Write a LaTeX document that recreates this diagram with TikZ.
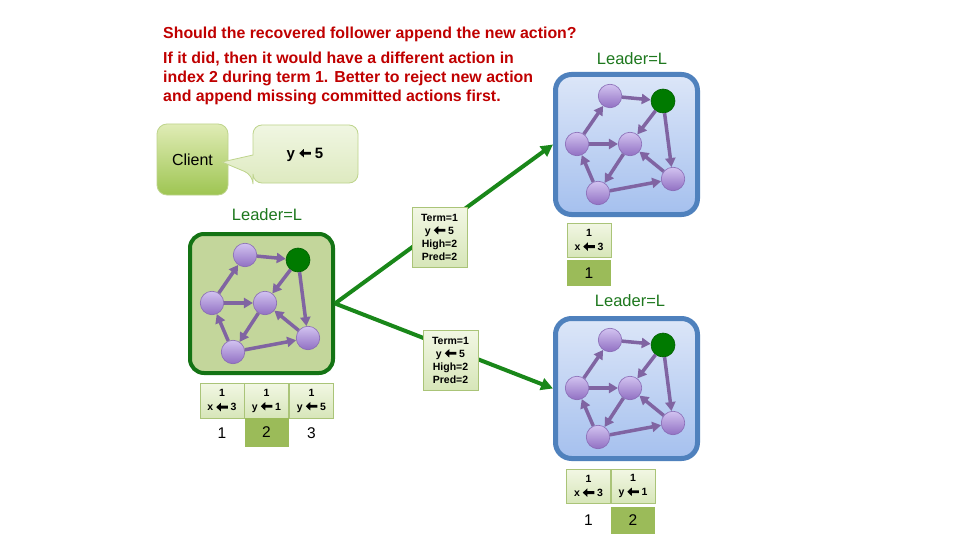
\documentclass[tikz,border=0pt]{standalone}
\usepackage{fontspec}
\setmainfont{Liberation Sans}
\usetikzlibrary{arrows.meta}
\definecolor{titlered}{RGB}{192,0,0}
\definecolor{leadgreen}{RGB}{30,120,30}
\definecolor{boxgreen}{RGB}{195,214,155}
\definecolor{boxgreenborder}{RGB}{20,115,20}
\definecolor{linkgreen}{RGB}{25,135,25}
\definecolor{purpleedge}{RGB}{128,100,162}
\definecolor{purplelight}{RGB}{210,195,240}
\definecolor{purpledark}{RGB}{145,112,195}
\definecolor{purpleborder}{RGB}{135,105,180}
\definecolor{leadernode}{RGB}{0,122,0}
\definecolor{leaderborder}{RGB}{0,95,0}
\definecolor{blueborder}{RGB}{79,129,189}
\definecolor{bluetop}{RGB}{220,230,248}
\definecolor{bluebottom}{RGB}{165,192,238}
\definecolor{cellborder}{RGB}{170,196,120}
\definecolor{celltop}{RGB}{242,247,228}
\definecolor{cellbottom}{RGB}{215,230,185}
\definecolor{indexfill}{RGB}{155,187,89}
\definecolor{clienttop}{RGB}{224,236,182}
\definecolor{clientbottom}{RGB}{158,197,82}
\definecolor{clientborder}{RGB}{190,212,140}
\definecolor{callouttop}{RGB}{240,246,226}
\definecolor{calloutbottom}{RGB}{222,234,192}
\definecolor{calloutborder}{RGB}{190,212,140}
\newcommand\larr{\tikz[baseline=0pt]\fill (0pt,0.36em) -- ++(4.5pt,4.2pt) -- ++(0pt,-2.8pt) -- ++(7pt,0pt) -- ++(0pt,-2.8pt) -- ++(-7pt,0pt) -- ++(0pt,-2.8pt) -- cycle;}
\tikzset{
  titletext/.style={text=titlered, font=\bfseries\fontsize{15.9}{19}\selectfont, anchor=west, inner sep=0pt},
  leadlabel/.style={text=leadgreen, font=\fontsize{16.5}{18}\selectfont, inner sep=0pt},
  gbox/.style={draw=boxgreenborder, line width=4pt, fill=boxgreen, rounded corners=14pt, minimum width=143pt, minimum height=139pt, inner sep=0pt},
  bbox/.style={draw=blueborder, line width=5pt, top color=bluetop, bottom color=bluebottom, rounded corners=16pt, minimum width=142pt, minimum height=140pt, inner sep=0pt},
  pnode/.style={circle, draw=purpleborder, line width=0.6pt, top color=purplelight, bottom color=purpledark, minimum size=23.5pt, inner sep=0pt},
  lnode/.style={circle, draw=leaderborder, line width=0.6pt, fill=leadernode, minimum size=24pt, inner sep=0pt},
  pedge/.style={draw=purpleedge, line width=3.5pt, -{Triangle[length=9pt,width=10pt]}},
  link/.style={draw=linkgreen, line width=4pt, -{Triangle[length=12pt,width=12pt]}},
  msg/.style={draw=cellborder, line width=0.8pt, top color=celltop, bottom color=cellbottom, minimum width=55pt, minimum height=60pt, align=center, inner sep=0pt, font=\bfseries\fontsize{10.5}{13}\selectfont},
  cell/.style={draw=cellborder, line width=0.8pt, top color=celltop, bottom color=cellbottom, minimum width=44pt, minimum height=35pt, align=center, inner sep=0pt, font=\bfseries\fontsize{10.5}{14}\selectfont},
  idx/.style={font=\fontsize{15.5}{18}\selectfont, inner sep=0pt},
  idxbox/.style={fill=indexfill, minimum width=44pt, minimum height=28pt, inner sep=0pt, font=\fontsize{15.5}{18}\selectfont},
}
\newcommand\raftcluster[4]{%
  \begin{scope}[shift={(#2,#3)}]
    \node[#4] (#1box) at (261.5,303.5) {};
    \node[pnode] (#1T) at (245,255) {};
    \node[lnode] (#1G) at (298,260) {};
    \node[pnode] (#1L) at (212,303) {};
    \node[pnode] (#1C) at (265,303) {};
    \node[pnode] (#1B) at (233,352) {};
    \node[pnode] (#1R) at (308,338) {};
    \draw[pedge] (#1L) -- (#1T);
    \draw[pedge] (#1T) -- (#1G);
    \draw[pedge] (#1G) -- (#1C);
    \draw[pedge] (#1G) -- (#1R);
    \draw[pedge] (#1L) -- (#1C);
    \draw[pedge] (#1C) -- (#1B);
    \draw[pedge] (#1B) -- (#1L);
    \draw[pedge] (#1B) -- (#1R);
    \draw[pedge] (#1R) -- (#1C);
  \end{scope}}
\begin{document}
\begin{tikzpicture}[x=1pt,y=-1pt]
\useasboundingbox[fill=white] (0,0) rectangle (960,540);
% texts
\node[titletext] (q) at (163,34) {Should the recovered follower append the new action?};
\node[titletext] (l1) at (163,59) {If it did, then it would have a different action in};
\node[titletext] (l2) at (163,78) {index 2 during term 1. Better to reject new action};
\node[titletext] (l3) at (163,97) {and append missing committed actions first.};
% client and callout
\node[draw=clientborder, line width=0.8pt, top color=clienttop, bottom color=clientbottom, rounded corners=10pt, minimum width=71pt, minimum height=71pt, inner sep=0pt, font=\fontsize{16}{18}\selectfont] (client) at (192.5,159.5) {\raisebox{-2pt}{Client}};
\path[draw=calloutborder, line width=0.8pt, top color=callouttop, bottom color=calloutbottom, rounded corners=9pt]
  (253,155) -- (253,125) -- (358,125) -- (358,183) -- (253,183) -- (253,175) [sharp corners] -- (222,162) -- cycle;
\node[font=\bfseries\fontsize{15}{18}\selectfont, inner sep=0pt] (req) at (305,155) {y \larr\ 5};
% clusters
\node[leadlabel] (lab1) at (267,215) {Leader=L};
\node[leadlabel] (lab2) at (632,59) {Leader=L};
\node[leadlabel] (lab3) at (630,301) {Leader=L};
\raftcluster{a}{0}{0}{gbox}
\raftcluster{b}{365}{-159}{bbox}
\raftcluster{c}{365}{85}{bbox}
% links
\draw[link] (abox.east) -- (bbox.west);
\draw[link] (abox.east) -- (cbox.west);
\node[msg] (m1) at (439.5,237) {Term=1\\y \larr\ 5\\High=2\\Pred=2};
\node[msg] (m2) at (450.5,360) {Term=1\\y \larr\ 5\\High=2\\Pred=2};
% left log
\node[cell] (a1) at (222,400.5) {1\\x \larr\ 3};
\node[cell] (a2) at (266.5,400.5) {1\\y \larr\ 1};
\node[cell] (a3) at (311.5,400.5) {1\\y \larr\ 5};
\node[idx] (ai1) at (222,433) {1};
\node[idxbox, minimum height=29pt] (ai2) at (266.5,432.5) {2};
\node[idx] (ai3) at (311.5,433) {3};
% top right log
\node[cell, minimum height=34pt] (b1) at (589,240) {1\\x \larr\ 3};
\node[idxbox, minimum height=26pt] (bi1) at (589,273) {1};
% bottom right log
\node[cell, minimum height=34pt] (c1) at (588.5,486) {1\\x \larr\ 3};
\node[cell, minimum height=34pt] (c2) at (633,486) {1\\y \larr\ 1};
\node[idx] (ci1) at (588.5,520) {1};
\node[idxbox, minimum height=27pt] (ci2) at (633,520.5) {2};
\end{tikzpicture}
\end{document}
